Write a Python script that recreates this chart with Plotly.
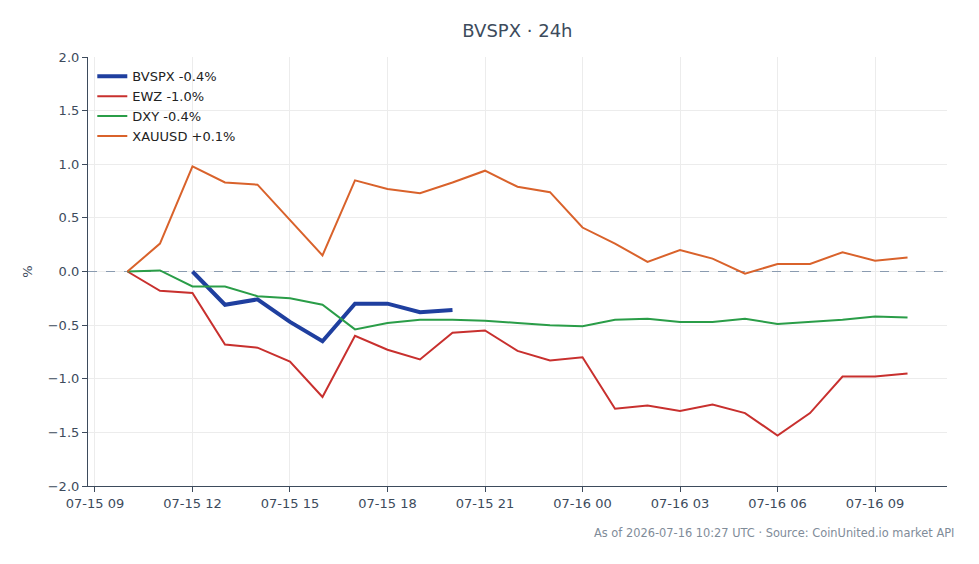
import pandas as pd
import plotly.graph_objects as go

times = pd.date_range("2026-07-15 10:00", "2026-07-16 10:00", freq="h")

bvspx_times = pd.date_range("2026-07-15 12:00", "2026-07-15 20:00", freq="h")
bvspx = [0.0, -0.31, -0.26, -0.47, -0.65, -0.30, -0.30, -0.38, -0.36]

ewz = [0.0, -0.18, -0.20, -0.68, -0.71, -0.84, -1.17, -0.60, -0.73, -0.82, -0.57, -0.55, -0.74,
       -0.83, -0.80, -1.28, -1.25, -1.30, -1.24, -1.32, -1.53, -1.32, -0.98, -0.98, -0.95]
dxy = [0.0, 0.01, -0.14, -0.14, -0.23, -0.25, -0.31, -0.54, -0.48, -0.45, -0.45, -0.46, -0.48,
       -0.50, -0.51, -0.45, -0.44, -0.47, -0.47, -0.44, -0.49, -0.47, -0.45, -0.42, -0.43]
xauusd = [0.0, 0.26, 0.98, 0.83, 0.81, 0.48, 0.15, 0.85, 0.77, 0.73, 0.83, 0.94, 0.79,
          0.74, 0.41, 0.26, 0.09, 0.20, 0.12, -0.02, 0.07, 0.07, 0.18, 0.10, 0.13]

names = ["BVSPX -0.4%", "EWZ -1.0%", "DXY -0.4%", "XAUUSD +0.1%"]
colors = ["#1f3f9f", "#c8302e", "#2a9d48", "#d9622b"]
widths = [4, 2, 2, 2]

pad = (times[-1] - times[0]) * 0.0506
xr = [times[0] - pad, times[-1] + pad]

fig = go.Figure()
fig.add_trace(go.Scatter(x=xr, y=[0, 0], mode="lines", showlegend=False, hoverinfo="skip",
                         line=dict(color="#8a9bb0", width=1.2, dash="dash")))
fig.add_trace(go.Scatter(x=bvspx_times, y=bvspx, mode="lines", name=names[0],
                         line=dict(color=colors[0], width=widths[0])))
for ys, nm, c, w in zip([ewz, dxy, xauusd], names[1:], colors[1:], widths[1:]):
    fig.add_trace(go.Scatter(x=times, y=ys, mode="lines", name=nm, line=dict(color=c, width=w)))

fig.update_layout(
    width=979, height=564,
    margin=dict(l=88, r=32, t=57, b=78),
    paper_bgcolor="white", plot_bgcolor="white",
    font=dict(family="DejaVu Sans", size=13, color="#3d4b5c"),
    title=dict(text="BVSPX · 24h", x=0.5285, xanchor="center", y=0.945, yanchor="middle",
               font=dict(size=18, color="#3d4b5c")),
    legend=dict(x=0.005, y=0.99, xanchor="left", yanchor="top", bgcolor="rgba(0,0,0,0)",
                font=dict(size=13, color="#222222"), itemwidth=30, tracegroupgap=2),
    showlegend=True,
    xaxis=dict(range=xr, tickformat="%m-%d %H", dtick=3 * 3600 * 1000,
               tick0="2026-07-15 09:00", showgrid=True, gridcolor="#ececec",
               showline=True, linecolor="#3d4b5c", linewidth=1.2, ticks="outside",
               ticklen=5, tickcolor="#3d4b5c", zeroline=False,
               tickfont=dict(size=13, color="#3d4b5c")),
    yaxis=dict(range=[-2, 2], dtick=0.5, tick0=0, tickformat=".1f", showgrid=True,
               gridcolor="#ececec", showline=True, linecolor="#3d4b5c", linewidth=1.2,
               ticks="outside", ticklen=5, tickcolor="#3d4b5c", zeroline=False,
               title=dict(text="%", font=dict(size=13, color="#3d4b5c"), standoff=12),
               tickfont=dict(size=13, color="#3d4b5c")),
)

fig.add_annotation(text="As of 2026-07-16 10:27 UTC · Source: CoinUnited.io market API",
                   xref="paper", yref="paper", x=1.01, y=-0.11, xanchor="right", yanchor="middle",
                   showarrow=False, font=dict(size=11.4, color="#7f8c99"))

fig.write_html("out.html")
